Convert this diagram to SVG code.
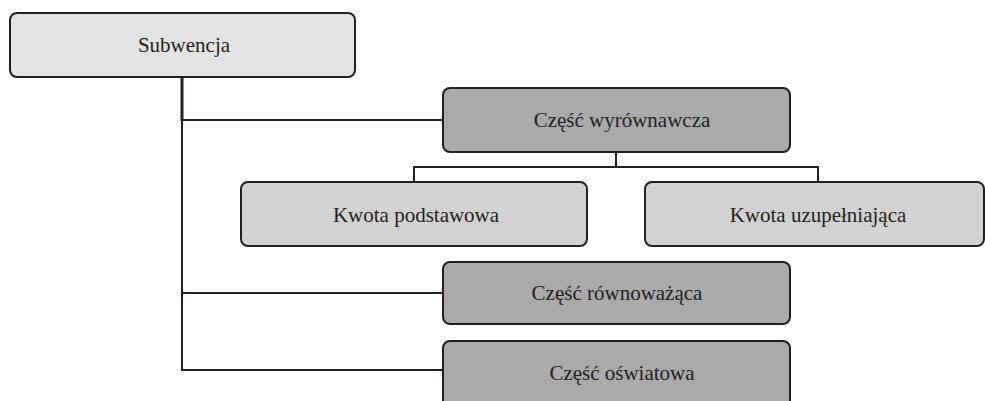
<svg xmlns="http://www.w3.org/2000/svg" width="985" height="401" viewBox="0 0 985 401">
<style>
.box{stroke:#231f20;stroke-width:2}
.top{fill:#e3e3e3}
.dark{fill:#a9aaa9}
.mid{fill:#d2d2d2}
.lbl{font-family:"Liberation Serif","Times New Roman",serif;font-size:21px;fill:#231f20;text-anchor:middle}
.ln{stroke:#231f20;stroke-width:2;fill:none}
</style>
<rect width="985" height="401" fill="#ffffff"/>
<g id="connectors">
<line class="ln" x1="182" y1="77" x2="182" y2="121" style="stroke-width:3"/>
<polyline class="ln" points="182,120 182,370 443,370"/>
<line class="ln" x1="182" y1="120" x2="443" y2="120"/>
<line class="ln" x1="182" y1="293" x2="443" y2="293"/>
<line class="ln" x1="616" y1="152" x2="616" y2="167"/>
<polyline class="ln" points="414,182 414,167 818,167 818,182"/>
</g>
<g id="subwencja">
<rect class="box top" x="10" y="13" width="345" height="64" rx="7"/>
<text class="lbl" x="184" y="52">Subwencja</text>
</g>
<g id="czesc-wyrownawcza">
<rect class="box dark" x="443" y="88" width="347" height="64" rx="7"/>
<text class="lbl" x="622" y="127">Część wyrównawcza</text>
</g>
<g id="kwota-podstawowa">
<rect class="box mid" x="241" y="182" width="346" height="64" rx="7"/>
<text class="lbl" x="416" y="222">Kwota podstawowa</text>
</g>
<g id="kwota-uzupelniajaca">
<rect class="box mid" x="645" y="182" width="339" height="64" rx="7"/>
<text class="lbl" x="818" y="222">Kwota uzupełniająca</text>
</g>
<g id="czesc-rownowazaca">
<rect class="box dark" x="443" y="262" width="347" height="62" rx="7"/>
<text class="lbl" x="617" y="300">Część równoważąca</text>
</g>
<g id="czesc-oswiatowa">
<rect class="box dark" x="443" y="341" width="347" height="70" rx="7"/>
<text class="lbl" x="622" y="380">Część oświatowa</text>
</g>
</svg>
